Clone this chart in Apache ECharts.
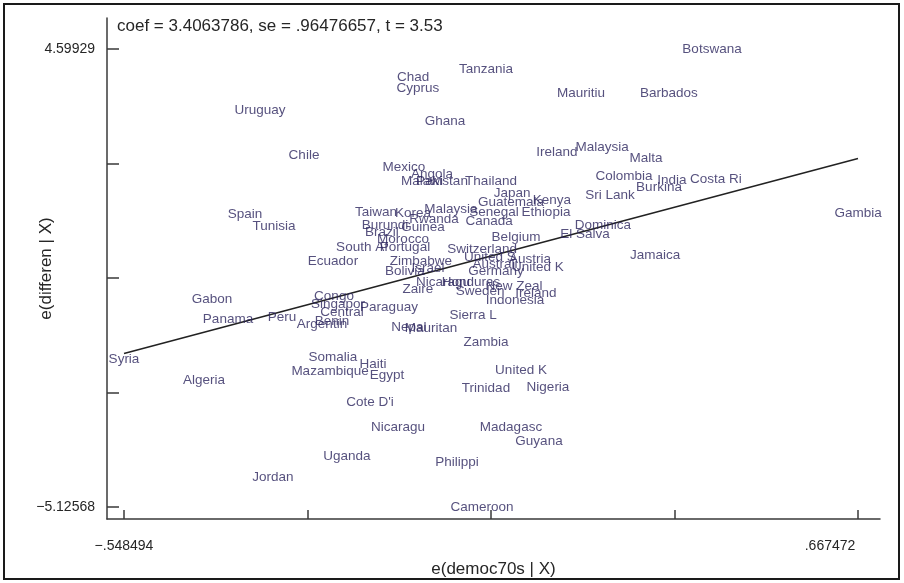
<!DOCTYPE html>
<html>
<head>
<meta charset="utf-8">
<script src="https://cdn.jsdelivr.net/npm/echarts@6/dist/echarts.min.js"></script>
<style>
  html, body { margin: 0; padding: 0; background: #fff; }
  #chart { width: 904px; height: 583px; }
</style>
</head>
<body>
<div id="chart"></div>
<script>
// ---- data ----
const countries = [
  'Botswana','Tanzania','Chad','Cyprus','Mauritiu','Barbados','Uruguay','Ghana','Chile','Ireland',
  'Malaysia','Malta','Colombia','India','Burkina','Costa Ri','Sri Lank','Japan','Kenya','Guatemala',
  'Senegal','Ethiopia','Canada','Dominica','El Salva','Belgium','Thailand','Mexico','Angola','Malawi',
  'Pakistan','Taiwan','Korea','Rwanda','Malaysia','Burundi','Guinea','Brazil','Morocco','Portugal',
  'South Af','Ecuador','Zimbabwe','Bolivia','Israel','Switzerland','United S','Austria','Australi','Germany',
  'United K','Nicaragu','Honduras','Zaire','Sweden','New Zeal','Ireland','Indonesia','Paraguay','Sierra L',
  'Nepal','Mauritan','Zambia','Congo','Singapor','Central','Peru','Argentin','Benin','Gabon',
  'Panama','Spain','Tunisia','Algeria','Syria','Cameroon','Somalia','Mazambique','Haiti','Egypt',
  'United K','Trinidad','Nigeria',"Cote D'i",'Nicaragu','Madagasc','Guyana','Uganda','Philippi','Jordan',
  'Gambia','Jamaica'
];
const xVals = [
  0.4256, 0.0512, -0.0697, -0.0615, 0.2086, 0.3543, -0.3232, -0.0167, -0.2503, 0.1688,
  0.2434, 0.3162, 0.2798, 0.3593, 0.3378, 0.4322, 0.2566, 0.0943, 0.1605, 0.0926,
  0.0644, 0.1506, 0.0562, 0.2450, 0.2152, 0.1009, 0.0595, -0.0847, -0.0383, -0.0548,
  -0.0217, -0.1310, -0.0697, -0.0350, -0.0068, -0.1161, -0.0532, -0.1211, -0.0863, -0.0830,
  -0.1542, -0.2023, -0.0565, -0.0830, -0.0449, 0.0446, 0.0578, 0.1241, 0.0661, 0.0678,
  0.1373, -0.0200, 0.0263, -0.0615, 0.0413, 0.0976, 0.1340, 0.0992, -0.1095, 0.0297,
  -0.0764, -0.0399, 0.0512, -0.2006, -0.1940, -0.1874, -0.2868, -0.2205, -0.2039, -0.4027,
  -0.3762, -0.3481, -0.3000, -0.4160, -0.548494, 0.0446, -0.2023, -0.2072, -0.1360, -0.1128,
  0.1092, 0.0512, 0.1539, -0.1410, -0.0946, 0.0926, 0.1390, -0.1791, 0.0031, -0.3017,
  0.667472, 0.3312
];
const yVals = [
  4.59929, 4.1756, 4.0061, 3.7730, 3.6671, 3.6671, 3.3069, 3.0738, 2.3323, 2.3959,
  2.5018, 2.2687, 1.8874, 1.8026, 1.6543, 1.8238, 1.4848, 1.5272, 1.3789, 1.3365,
  1.1246, 1.1246, 0.9339, 0.8492, 0.6585, 0.5950, 1.7814, 2.0780, 1.9297, 1.7814,
  1.7814, 1.1246, 1.1034, 0.9763, 1.1882, 0.8492, 0.8068, 0.7009, 0.5526, 0.3831,
  0.3831, 0.0865, 0.0865, -0.1254, -0.0618, 0.3407, 0.1712, 0.1288, 0.0229, -0.1254,
  -0.0407, -0.3585, -0.3585, -0.5068, -0.5491, -0.4432, -0.5915, -0.7398, -0.8881, -1.0576,
  -1.3119, -1.3331, -1.6297, -0.6551, -0.8246, -0.9941, -1.1000, -1.2483, -1.1848, -0.7186,
  -1.1424, 1.0823, 0.8280, -2.4348, -1.9899, -5.12568, -1.9475, -2.2441, -2.0958, -2.3288,
  -2.2229, -2.6043, -2.5831, -2.9009, -3.4306, -3.4306, -3.7272, -4.0450, -4.1721, -4.4899,
  1.1034, 0.2136
];
const coef = 3.4063786;
const titleText = 'coef = 3.4063786, se = .96476657, t = 3.53';
const xTickValues = [-0.548494, -0.2445025, 0.059489, 0.3634805, 0.667472];
const yTickValues = [4.59929, 2.1680475, -0.2631950, -2.6944375, -5.12568];
const xLabelValues = [-0.548494, 0.667472];
const xLabelTexts = ['\u2212.548494', '.667472'];
const yLabelValues = [4.59929, -5.12568];
const yLabelTexts = ['4.59929', '\u22125.12568'];
const xTitle = 'e(democ70s | X)';
const yTitle = 'e(differen | X)';

// ---- chart ----
const FONT = '"Liberation Sans", Arial, sans-serif';
const chart = echarts.init(document.getElementById('chart'), null, { renderer: 'canvas' });
const xMinData = Math.min(...xVals), xMaxData = Math.max(...xVals);
const xLabelFormatter = v => {
  if (Math.abs(v - xLabelValues[0]) < 1e-6) return '{a|' + xLabelTexts[0] + '}';
  if (Math.abs(v - xLabelValues[1]) < 1e-6) return '{b|' + xLabelTexts[1] + '}';
  return '';
};
const yLabelFormatter = v => {
  for (let i = 0; i < yLabelValues.length; i++) if (Math.abs(yLabelValues[i] - v) < 1e-6) return yLabelTexts[i];
  return '';
};
const TXT = '#262626';

chart.setOption({
  animation: false,
  backgroundColor: '#fff',
  textStyle: { fontFamily: FONT },
  graphic: [{
    type: 'rect', silent: true,
    shape: { x: 4, y: 4, width: 895, height: 575 },
    style: { fill: 'none', stroke: '#1a1a1a', lineWidth: 2 }
  }],
  title: {
    text: titleText, left: 112, top: 13,
    textStyle: { fontFamily: FONT, fontSize: 17, fontWeight: 'normal', color: TXT }
  },
  grid: { left: 107, right: 24, top: 18, bottom: 62, containLabel: false },
  xAxis: {
    type: 'value', min: -0.57666, max: 0.70390,
    name: xTitle, nameLocation: 'middle', nameGap: 42, nameMoveOverlap: false,
    nameTextStyle: { fontFamily: FONT, fontSize: 17, color: TXT },
    splitLine: { show: false },
    axisLine: { onZero: false, lineStyle: { color: '#3a3a3a', width: 1.5 } },
    axisTick: { show: true, inside: true, length: 9, customValues: xTickValues, lineStyle: { color: '#3a3a3a', width: 1.5 } },
    axisLabel: { show: true, margin: 20, customValues: xLabelValues, formatter: xLabelFormatter,
      fontFamily: FONT, fontSize: 14, color: TXT,
      rich: {
        a: { fontFamily: FONT, fontSize: 14, color: TXT },
        b: { fontFamily: FONT, fontSize: 14, color: TXT, padding: [0, 56, 0, 0] }
      } }
  },
  yAxis: {
    type: 'value', min: -5.3797, max: 5.2561,
    name: yTitle, nameLocation: 'middle', nameGap: 52, nameRotate: 90, nameMoveOverlap: false,
    nameTextStyle: { fontFamily: FONT, fontSize: 17, color: TXT },
    splitLine: { show: false },
    axisLine: { onZero: false, lineStyle: { color: '#3a3a3a', width: 1.5 } },
    axisTick: { show: true, inside: true, length: 12, customValues: yTickValues, lineStyle: { color: '#3a3a3a', width: 1.5 } },
    axisLabel: { show: true, margin: 12, customValues: yLabelValues, formatter: yLabelFormatter,
      fontFamily: FONT, fontSize: 14, color: TXT }
  },
  series: [
    {
      type: 'scatter', silent: true,
      symbolSize: 1,
      itemStyle: { color: 'rgba(0,0,0,0)' },
      data: countries.map((c, i) => [xVals[i], yVals[i], c]),
      label: {
        show: true, position: 'inside', align: 'center', verticalAlign: 'middle',
        formatter: p => p.data[2],
        fontFamily: FONT, fontSize: 13.5, color: '#2c265e'
      },
      labelLayout: { hideOverlap: false },
      z: 3
    },
    {
      type: 'line', silent: true, symbol: 'none',
      data: [[xMinData, coef * xMinData], [xMaxData, coef * xMaxData]],
      lineStyle: { color: '#222', width: 1.6 },
      z: 2
    }
  ]
});
</script>
</body>
</html>
